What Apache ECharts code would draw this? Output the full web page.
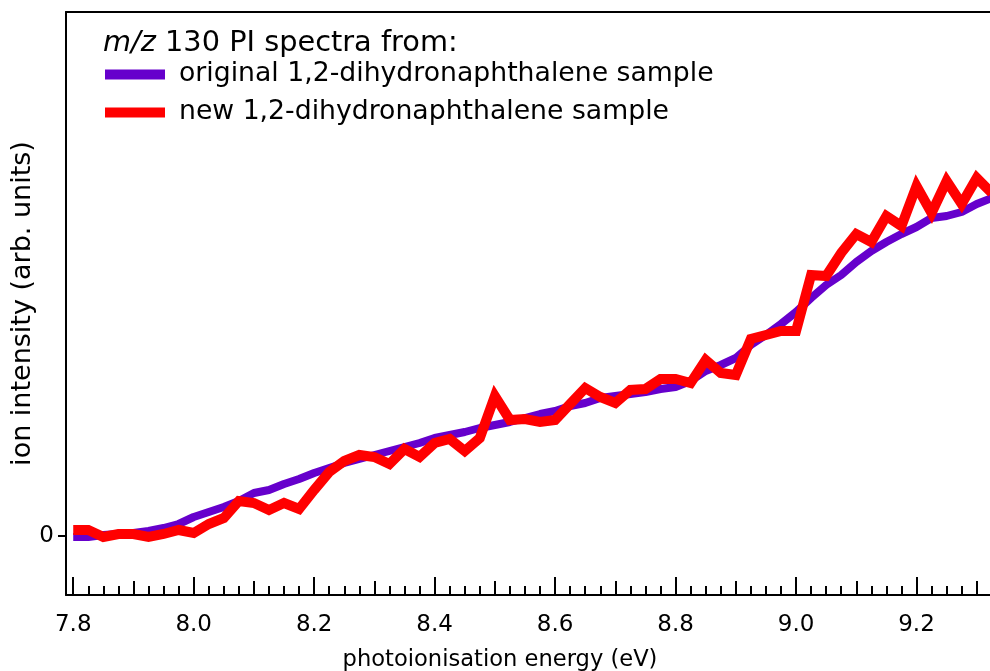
<!DOCTYPE html>
<html>
<head>
    <meta charset="utf-8">
    <script src="https://cdn.jsdelivr.net/npm/echarts@6/dist/echarts.min.js"></script>
    <style>
        html, body { margin: 0; padding: 0; background: #fff; }
    </style>
</head>
<body>
    <div id="main" style="width: 990px;height:671px;"></div>
<script type="text/javascript">
// photon energy grid (eV)
var energy = [
    7.800, 7.825, 7.850, 7.875, 7.900, 7.925, 7.950, 7.975,
    8.000, 8.025, 8.050, 8.075, 8.100, 8.125, 8.150, 8.175,
    8.200, 8.225, 8.250, 8.275, 8.300, 8.325, 8.350, 8.375,
    8.400, 8.425, 8.450, 8.475, 8.500, 8.525, 8.550, 8.575,
    8.600, 8.625, 8.650, 8.675, 8.700, 8.725, 8.750, 8.775,
    8.800, 8.825, 8.850, 8.875, 8.900, 8.925, 8.950, 8.975,
    9.000, 9.025, 9.050, 9.075, 9.100, 9.125, 9.150, 9.175,
    9.200, 9.225, 9.250, 9.275, 9.300, 9.325
];
// original 1,2-dihydronaphthalene sample
var originalSample = [
    -0.01, -0.01, 0.01, 0.02, 0.03, 0.05, 0.08, 0.12,
    0.19, 0.24, 0.29, 0.35, 0.43, 0.46, 0.52, 0.57,
    0.63, 0.68, 0.73, 0.77, 0.81, 0.85, 0.89, 0.93,
    0.98, 1.01, 1.04, 1.08, 1.11, 1.14, 1.18, 1.22,
    1.25, 1.30, 1.33, 1.38, 1.40, 1.42, 1.44, 1.47,
    1.49, 1.55, 1.65, 1.71, 1.78, 1.91, 2.01, 2.12,
    2.24, 2.38, 2.51, 2.61, 2.74, 2.85, 2.94, 3.02,
    3.09, 3.18, 3.20, 3.24, 3.32, 3.38
];
// new 1,2-dihydronaphthalene sample
var newSample = [
    0.06, 0.06, -0.01, 0.02, 0.02, -0.01, 0.02, 0.06,
    0.03, 0.12, 0.18, 0.35, 0.33, 0.26, 0.33, 0.27,
    0.46, 0.64, 0.75, 0.81, 0.79, 0.72, 0.87, 0.79,
    0.93, 0.97, 0.85, 0.98, 1.40, 1.16, 1.17, 1.14,
    1.16, 1.32, 1.48, 1.39, 1.33, 1.46, 1.47, 1.57,
    1.57, 1.53, 1.76, 1.63, 1.61, 1.97, 2.01, 2.05,
    2.05, 2.61, 2.60, 2.83, 3.02, 2.94, 3.20, 3.10,
    3.50, 3.23, 3.55, 3.32, 3.58, 3.43
];
var xMajor = [7.8, 8.0, 8.2, 8.4, 8.6, 8.8, 9.0, 9.2];
var xMid = [7.9, 8.1, 8.3, 8.5, 8.7, 8.9, 9.1, 9.3];
var yLabels = [0];
var seriesNames = ['original 1,2-dihydronaphthalene sample', 'new 1,2-dihydronaphthalene sample'];

var xMin = 7.788, xMax = 9.322;
var yMin = -0.59, yMax = 5.24;

// minor ticks every 0.025 eV
var xMinor = [];
for (var k = 0; k <= 61; k++) {
    xMinor.push(Math.round((7.8 + k * 0.025) * 1000) / 1000);
}

function pairs(xs, ys) {
    var res = [];
    for (var i = 0; i < xs.length; i++) res.push([xs[i], ys[i]]);
    return res;
}

var FONT = 'DejaVu Sans';
var gridBox = { left: 66, right: 0, top: 12, bottom: 76, outerBoundsMode: 'none', containLabel: false };

function tickAxis(gridIndex, values, len, withLabels) {
    return {
        type: 'value', gridIndex: gridIndex, position: 'bottom',
        min: xMin, max: xMax,
        axisLine: { show: gridIndex === 0, onZero: false, lineStyle: { color: '#000', width: 2 } },
        axisTick: { show: true, inside: true, length: len, customValues: values,
            lineStyle: { color: '#000', width: 2 } },
        axisLabel: withLabels ? {
            show: true, customValues: values, margin: 19,
            color: '#000', fontSize: 23, fontFamily: FONT,
            formatter: function (v) { return v.toFixed(1); }
        } : { show: false },
        splitLine: { show: false }
    };
}

var xAxes = [
    tickAxis(0, xMajor, 18, true),
    tickAxis(1, xMid, 14, false),
    tickAxis(2, xMinor, 9, false),
    {
        type: 'value', gridIndex: 0, position: 'top', min: xMin, max: xMax,
        axisLine: { show: true, onZero: false, lineStyle: { color: '#000', width: 2 } },
        axisTick: { show: false }, axisLabel: { show: false }, splitLine: { show: false }
    }
];
xAxes[0].name = 'photoionisation energy (eV)';
xAxes[0].nameLocation = 'middle';
xAxes[0].nameGap = 54;
xAxes[0].nameMoveOverlap = false;
xAxes[0].nameTextStyle = { color: '#000', fontSize: 22.6, fontFamily: FONT, padding: [0, 56, 0, 0] };

var yAxes = [
    {
        type: 'value', gridIndex: 0, min: yMin, max: yMax,
        name: 'ion intensity (arb. units)', nameLocation: 'middle', nameGap: 30,
        nameMoveOverlap: false,
        nameTextStyle: { color: '#000', fontSize: 27, fontFamily: FONT },
        axisLine: { show: true, onZero: false, lineStyle: { color: '#000', width: 2 } },
        axisTick: { show: true, length: 8, customValues: yLabels, lineStyle: { color: '#000', width: 2 } },
        axisLabel: { show: true, customValues: yLabels, margin: 12, color: '#000', fontSize: 23, fontFamily: FONT },
        splitLine: { show: false }
    },
    { type: 'value', gridIndex: 1, min: yMin, max: yMax, show: false },
    { type: 'value', gridIndex: 2, min: yMin, max: yMax, show: false }
];

var myChart = echarts.init(document.getElementById('main'));

var option = {
    backgroundColor: '#fff',
    animation: false,
    title: {
        text: '{i|m/z} 130 PI spectra from:',
        left: 98, top: 24,
        textStyle: {
            color: '#000', fontSize: 28.8, fontWeight: 'normal', fontFamily: FONT,
            rich: { i: { fontStyle: 'italic', fontSize: 28.8, fontFamily: FONT, color: '#000' } }
        }
    },
    legend: {
        orient: 'vertical', left: 100, top: 56,
        icon: 'rect', itemWidth: 60, itemHeight: 10, itemGap: 11,
        data: seriesNames,
        textStyle: { color: '#000', fontSize: 26.7, fontFamily: FONT, lineHeight: 27, padding: [0, 0, 0, 9] }
    },
    grid: [gridBox, gridBox, gridBox],
    xAxis: xAxes,
    yAxis: yAxes,
    series: [
        {
            name: seriesNames[0], type: 'line', xAxisIndex: 0, yAxisIndex: 0,
            data: pairs(energy, originalSample),
            showSymbol: false, color: '#6600cc',
            lineStyle: { color: '#6600cc', width: 8 }
        },
        {
            name: seriesNames[1], type: 'line', xAxisIndex: 0, yAxisIndex: 0,
            data: pairs(energy, newSample),
            showSymbol: false, color: '#ff0000',
            lineStyle: { color: '#ff0000', width: 10, join: 'miter' }
        }
    ]
};

myChart.setOption(option);
</script>
</body>
</html>
